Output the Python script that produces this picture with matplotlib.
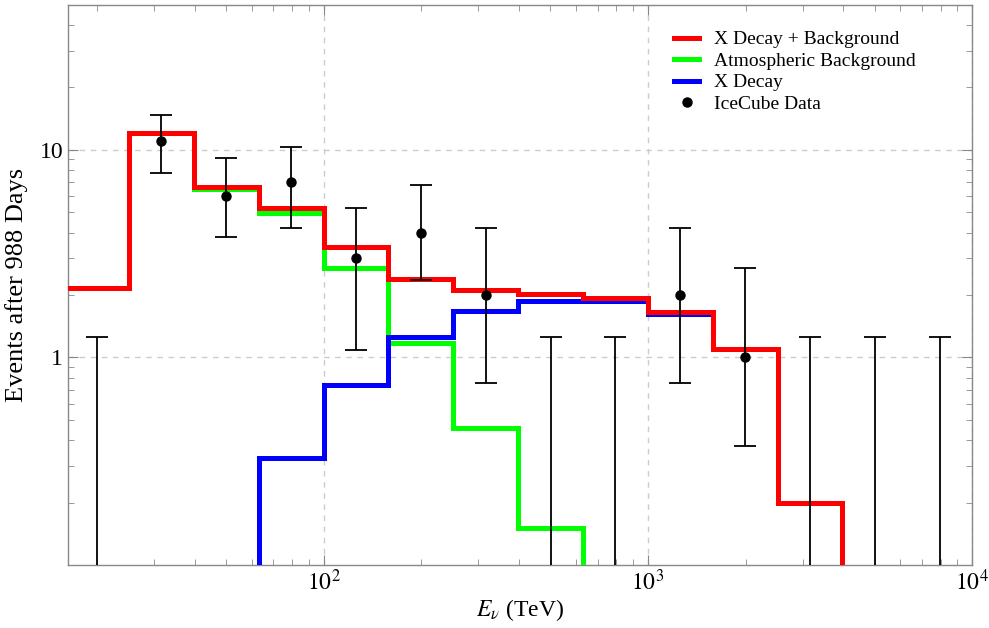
import numpy as np
import matplotlib
matplotlib.use("Agg")
import matplotlib.pyplot as plt
from matplotlib.lines import Line2D
from matplotlib.ticker import LogLocator, FixedLocator, NullFormatter, FixedFormatter

plt.rcParams.update({
    "font.family": ["Liberation Serif", "DejaVu Serif"],
    "mathtext.fontset": "stix",
    "font.size": 16,
})

# energy bin edges (TeV), 0.2 dex wide
edges = [15.85, 25.12, 39.81, 63.10, 100.0, 158.5, 251.2, 398.1, 631.0, 1000.0, 1585.0, 2512.0, 3981.0]

# X decay + background (all bins)
total = [2.15, 12.1, 6.64, 5.26, 3.42, 2.40, 2.12, 2.03, 1.94, 1.65, 1.10, 0.20]
# atmospheric background, bins 15.85 .. 631
bkg_edges = [15.85, 25.12, 39.81, 63.10, 100.0, 158.5, 251.2, 398.1, 631.0]
bkg = [2.15, 12.0, 6.5, 4.98, 2.71, 1.18, 0.455, 0.15]
# X decay, bins 63 .. 3981
sig_edges = [63.10, 100.0, 158.5, 251.2, 398.1, 631.0, 1000.0, 1585.0, 2512.0, 3981.0]
sig = [0.327, 0.74, 1.25, 1.68, 1.88, 1.88, 1.62, 1.10, 0.20]

# IceCube events with error bars
data_e = [31.6, 50.1, 79.4, 125.9, 199.5, 316.2, 1259.0, 1995.0]
data_n = [11, 6, 7, 3, 4, 2, 2, 1]
data_hi = [14.7, 9.15, 10.3, 5.26, 6.79, 4.22, 4.22, 2.71]
data_lo = [7.75, 3.82, 4.22, 1.09, 2.37, 0.75, 0.75, 0.373]

# upper limits for empty bins
ul_e = [19.95, 501.2, 794.3, 3162.0, 5012.0, 7943.0]
ul_n = [1.26, 1.26, 1.26, 1.26, 1.26, 1.26]

fig = plt.figure(figsize=(9.89, 6.28), dpi=100)
ax = fig.add_axes([0.0688, 0.1003, 0.9142, 0.892])
ax.set_xscale("log")
ax.set_yscale("log")

ax.stairs(bkg, bkg_edges, baseline=1e-3, color="#00ff00", lw=3.6, zorder=3)
ax.stairs(sig, sig_edges, baseline=1e-3, color="#0000ff", lw=3.6, zorder=4)
ax.stairs(total, edges, baseline=1e-3, color="#ff0000", lw=3.6, zorder=5)

n = np.array(data_n, dtype=float)
yerr = [n - np.array(data_lo), np.array(data_hi) - n]
ax.errorbar(data_e, data_n, yerr=yerr, fmt="o", color="black", ms=6.5,
            elinewidth=1.3, capsize=8, capthick=1.3, zorder=6)

ul = np.array(ul_n)
ax.errorbar(ul_e, ul_n, yerr=[ul, np.zeros_like(ul)], fmt="none", color="black",
            elinewidth=1.3, capsize=8, capthick=1.3, zorder=6)

ax.set_xlim(10 ** 1.212, 1e4)
ax.set_ylim(0.1, 50)

ax.xaxis.set_major_locator(FixedLocator([1e2, 1e3, 1e4]))
ax.xaxis.set_major_formatter(FixedFormatter([r"$10^2$", r"$10^3$", r"$10^4$"]))
ax.xaxis.set_minor_locator(LogLocator(base=10, subs=np.arange(2, 10), numticks=20))
ax.xaxis.set_minor_formatter(NullFormatter())
ax.yaxis.set_major_locator(FixedLocator([1, 10]))
ax.yaxis.set_major_formatter(FixedFormatter(["1", "10"]))
ax.yaxis.set_minor_locator(LogLocator(base=10, subs=np.arange(2, 10), numticks=20))
ax.yaxis.set_minor_formatter(NullFormatter())

ax.tick_params(which="both", direction="in", top=True, right=True, color="#888888",
               labelsize=17)
ax.tick_params(which="major", length=7, width=0.8)
ax.tick_params(which="minor", length=4, width=0.6)
for s in ax.spines.values():
    s.set_color("#888888")
    s.set_linewidth(1.0)

ax.grid(which="major", ls=(0, (4, 4)), color="#cccccc", lw=1.0)

ax.set_xlabel(r"$E_\nu$ (TeV)", fontsize=17, labelpad=1)
ax.set_ylabel("Events after 988 Days", fontsize=19, labelpad=8)

handles = [
    Line2D([], [], color="#ff0000", lw=3.6),
    Line2D([], [], color="#00ff00", lw=3.6),
    Line2D([], [], color="#0000ff", lw=3.6),
    Line2D([], [], color="black", marker="o", ls="none", ms=6.5),
]
labels = ["X Decay + Background", "Atmospheric Background", "X Decay", "IceCube Data"]
ax.legend(handles, labels, loc="upper right", bbox_to_anchor=(0.957, 0.985), frameon=False,
          fontsize=14, handlelength=1.3, handletextpad=0.75, labelspacing=0.2)

fig.savefig("out.png", dpi=100)
